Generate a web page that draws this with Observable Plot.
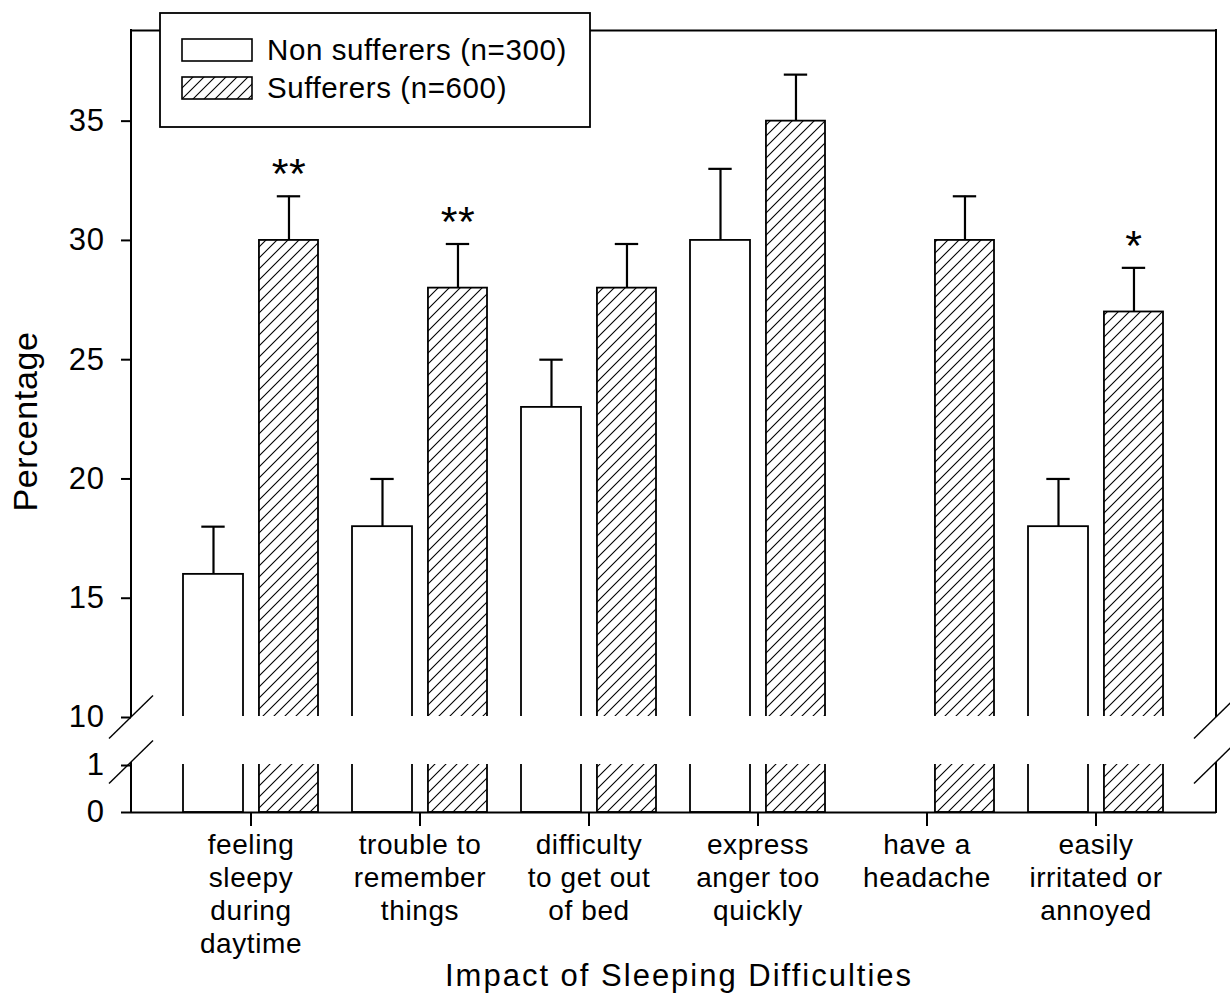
<!DOCTYPE html>
<html><head><meta charset="utf-8">
<script src="https://cdn.jsdelivr.net/npm/d3@7"></script>
<script src="https://cdn.jsdelivr.net/npm/@observablehq/plot@0.6"></script>
<style>
body{margin:0;background:#fff;font-family:Arial,"Liberation Sans",sans-serif;}
#wrap{position:relative;width:1230px;height:996px;}
#legend{position:absolute;left:159px;top:12px;}
</style></head><body>
<div id="wrap"><div id="chart"></div><div id="legend"></div></div>
<script>
// ---------- data ----------
const categories = [
  "feeling\nsleepy\nduring\ndaytime",
  "trouble to\nremember\nthings",
  "difficulty\nto get out\nof bed",
  "express\nanger too\nquickly",
  "have a\nheadache",
  "easily\nirritated or\nannoyed"
];
const seriesNames = ["Non sufferers (n=300)", "Sufferers (n=600)"];
const nonValues = [16, 18, 23, 30, null, 18];
const nonUpper  = [18, 20, 25, 33, null, 20];
const sufValues = [30, 28, 28, 35, 30, 27];
const sufUpper  = [31.85, 29.85, 29.85, 36.95, 31.85, 28.85];
const significance = ["**", "**", "", "", "", "*"];
const yTicks = [0, 1, 10, 15, 20, 25, 30, 35];
const lowMax = 1.064;   // top of the lower axis segment
const breakAt = 10;     // bottom of the upper axis segment
const yTop = 38.8;

// ---------- layout ----------
const W = 1230, H = 996, ML = 131, MR = 14, MT = 30, MB = 184;
const padIn = 0.2, padOut = 0.3;
const step = (W - ML - MR) / (categories.length - padIn + 2 * padOut);
const bw = step * (1 - padIn);
const nonW = bw * 0.447, sufW = bw * 0.44;
const nonCenter = nonW / 2 - bw / 2;         // offset from band centre
const sufCenter = bw / 2 - sufW / 2;
const capHalf = 12;

const non = categories.map((c, i) => ({c, v: nonValues[i], e: nonUpper[i]})).filter(d => d.v != null);
const suf = categories.map((c, i) => ({c, v: sufValues[i], e: sufUpper[i], s: significance[i]}));

const hatchDefs = () => {
  const defs = d3.create("svg:defs");
  const p = defs.append("pattern").attr("id", "hatch").attr("patternUnits", "userSpaceOnUse")
    .attr("width", 11).attr("height", 11);
  p.append("rect").attr("width", 11).attr("height", 11).attr("fill", "white");
  p.append("path").attr("d", "M-2,2 L2,-2 M0,11 L11,0 M9,13 L13,9")
    .attr("stroke", "black").attr("stroke-width", 1.1);
  return defs.node();
};

function frameMark(index, scales, values, dims) {
  const y = scales.y;
  const xl = dims.marginLeft, xr = dims.width - dims.marginRight;
  const g = d3.create("svg:g").attr("stroke", "black").attr("fill", "none");
  for (const x0 of [xl, xr]) {
    g.append("line").attr("stroke-width", 2).attr("x1", x0).attr("x2", x0).attr("y1", y(0) + 1).attr("y2", y(lowMax));
    g.append("line").attr("stroke-width", 2).attr("x1", x0).attr("x2", x0).attr("y1", y(breakAt)).attr("y2", y(yTop) - 1);
    for (const v of [breakAt, lowMax]) {
      g.append("line").attr("stroke-width", 1.4)
        .attr("x1", x0 - 22).attr("y1", y(v) + 21.5).attr("x2", x0 + 22).attr("y2", y(v) - 21.5);
    }
  }
  return g.node();
}

const barStyle = {stroke: "black", strokeWidth: 1.8};

const chart = Plot.plot({
  width: W, height: H,
  marginLeft: ML, marginRight: MR, marginTop: MT, marginBottom: MB,
  style: {fontFamily: "Arial, 'Liberation Sans', sans-serif", color: "black", background: "white", letterSpacing: "0.6px"},
  x: {type: "band", domain: categories, paddingInner: padIn, paddingOuter: padOut},
  y: {type: "linear", domain: [0, lowMax, breakAt, yTop], range: [H - MB, 762, 717, MT]},
  marks: [
    hatchDefs,
    // upper segment bars
    Plot.barY(non, {x: "c", y1: breakAt, y2: "v", fill: "white", insetRight: bw - nonW, ...barStyle}),
    Plot.barY(suf, {x: "c", y1: breakAt, y2: "v", fill: "url(#hatch)", insetLeft: bw - sufW, ...barStyle}),
    // lower segment bars
    Plot.barY(non, {x: "c", y1: 0, y2: lowMax, fill: "white", insetRight: bw - nonW, ...barStyle}),
    Plot.barY(suf, {x: "c", y1: 0, y2: lowMax, fill: "url(#hatch)", insetLeft: bw - sufW, ...barStyle}),
    // open the bars at the axis break
    Plot.ruleY([breakAt, lowMax], {stroke: "white", strokeWidth: 3.2}),
    // error bars
    Plot.ruleX(non, {x: "c", y1: "v", y2: "e", dx: nonCenter, stroke: "black", strokeWidth: 2.2}),
    Plot.ruleX(suf, {x: "c", y1: "v", y2: "e", dx: sufCenter, stroke: "black", strokeWidth: 2.2}),
    Plot.tickY(non, {x: "c", y: "e", insetLeft: nonW / 2 - capHalf, insetRight: bw - nonW / 2 - capHalf, stroke: "black", strokeWidth: 2.2}),
    Plot.tickY(suf, {x: "c", y: "e", insetLeft: bw - sufW / 2 - capHalf, insetRight: sufW / 2 - capHalf, stroke: "black", strokeWidth: 2.2}),
    // significance markers
    Plot.text(suf, {x: "c", y: "e", text: "s", dx: sufCenter, dy: -8, lineAnchor: "bottom", fontSize: 43, fill: "black"}),
    // frame
    Plot.ruleY([0, yTop], {stroke: "black", strokeWidth: 2}),
    frameMark,
    // axes
    Plot.axisY({ticks: yTicks, tickSize: 10, tickPadding: 17, fontSize: 31, label: null, strokeWidth: 2}),
    Plot.axisX({tickSize: 14, tickPadding: 4, fontSize: 28, lineHeight: 1.18, label: null, strokeWidth: 2}),
    Plot.text(["Percentage"], {frameAnchor: "left", textAnchor: "middle", lineAnchor: "middle", dx: -105, rotate: -90, fontSize: 34, fill: "black"}),
    Plot.text(["Impact of Sleeping Difficulties"], {frameAnchor: "bottom", lineAnchor: "bottom", dx: 5, dy: 173, fontSize: 31, fill: "black"})
  ]
});
d3.select(chart).selectAll("text").filter(function() { return this.textContent === "Impact of Sleeping Difficulties"; })
  .style("letter-spacing", "2px");
document.getElementById("chart").append(chart);

// ---------- legend ----------
const lg = d3.select("#legend").append("svg").attr("width", 433).attr("height", 117)
  .style("font-family", "Arial, 'Liberation Sans', sans-serif").style("letter-spacing", "0.6px");
const ld = lg.append("defs").append("pattern").attr("id", "hatchL").attr("patternUnits", "userSpaceOnUse")
  .attr("width", 11).attr("height", 11);
ld.append("rect").attr("width", 11).attr("height", 11).attr("fill", "white");
ld.append("path").attr("d", "M-2,2 L2,-2 M0,11 L11,0 M9,13 L13,9").attr("stroke", "black").attr("stroke-width", 1.1);
lg.append("rect").attr("x", 1).attr("y", 1).attr("width", 430).attr("height", 114)
  .attr("fill", "white").attr("stroke", "black").attr("stroke-width", 1.8);
seriesNames.forEach((name, i) => {
  const yy = 27 + i * 38;
  lg.append("rect").attr("x", 23).attr("y", yy).attr("width", 70).attr("height", 22)
    .attr("fill", i === 0 ? "white" : "url(#hatchL)").attr("stroke", "black").attr("stroke-width", 1.6);
  lg.append("text").attr("x", 108).attr("y", yy + 21).attr("font-size", 29.5).attr("fill", "black").text(name);
});
</script>
</body></html>
